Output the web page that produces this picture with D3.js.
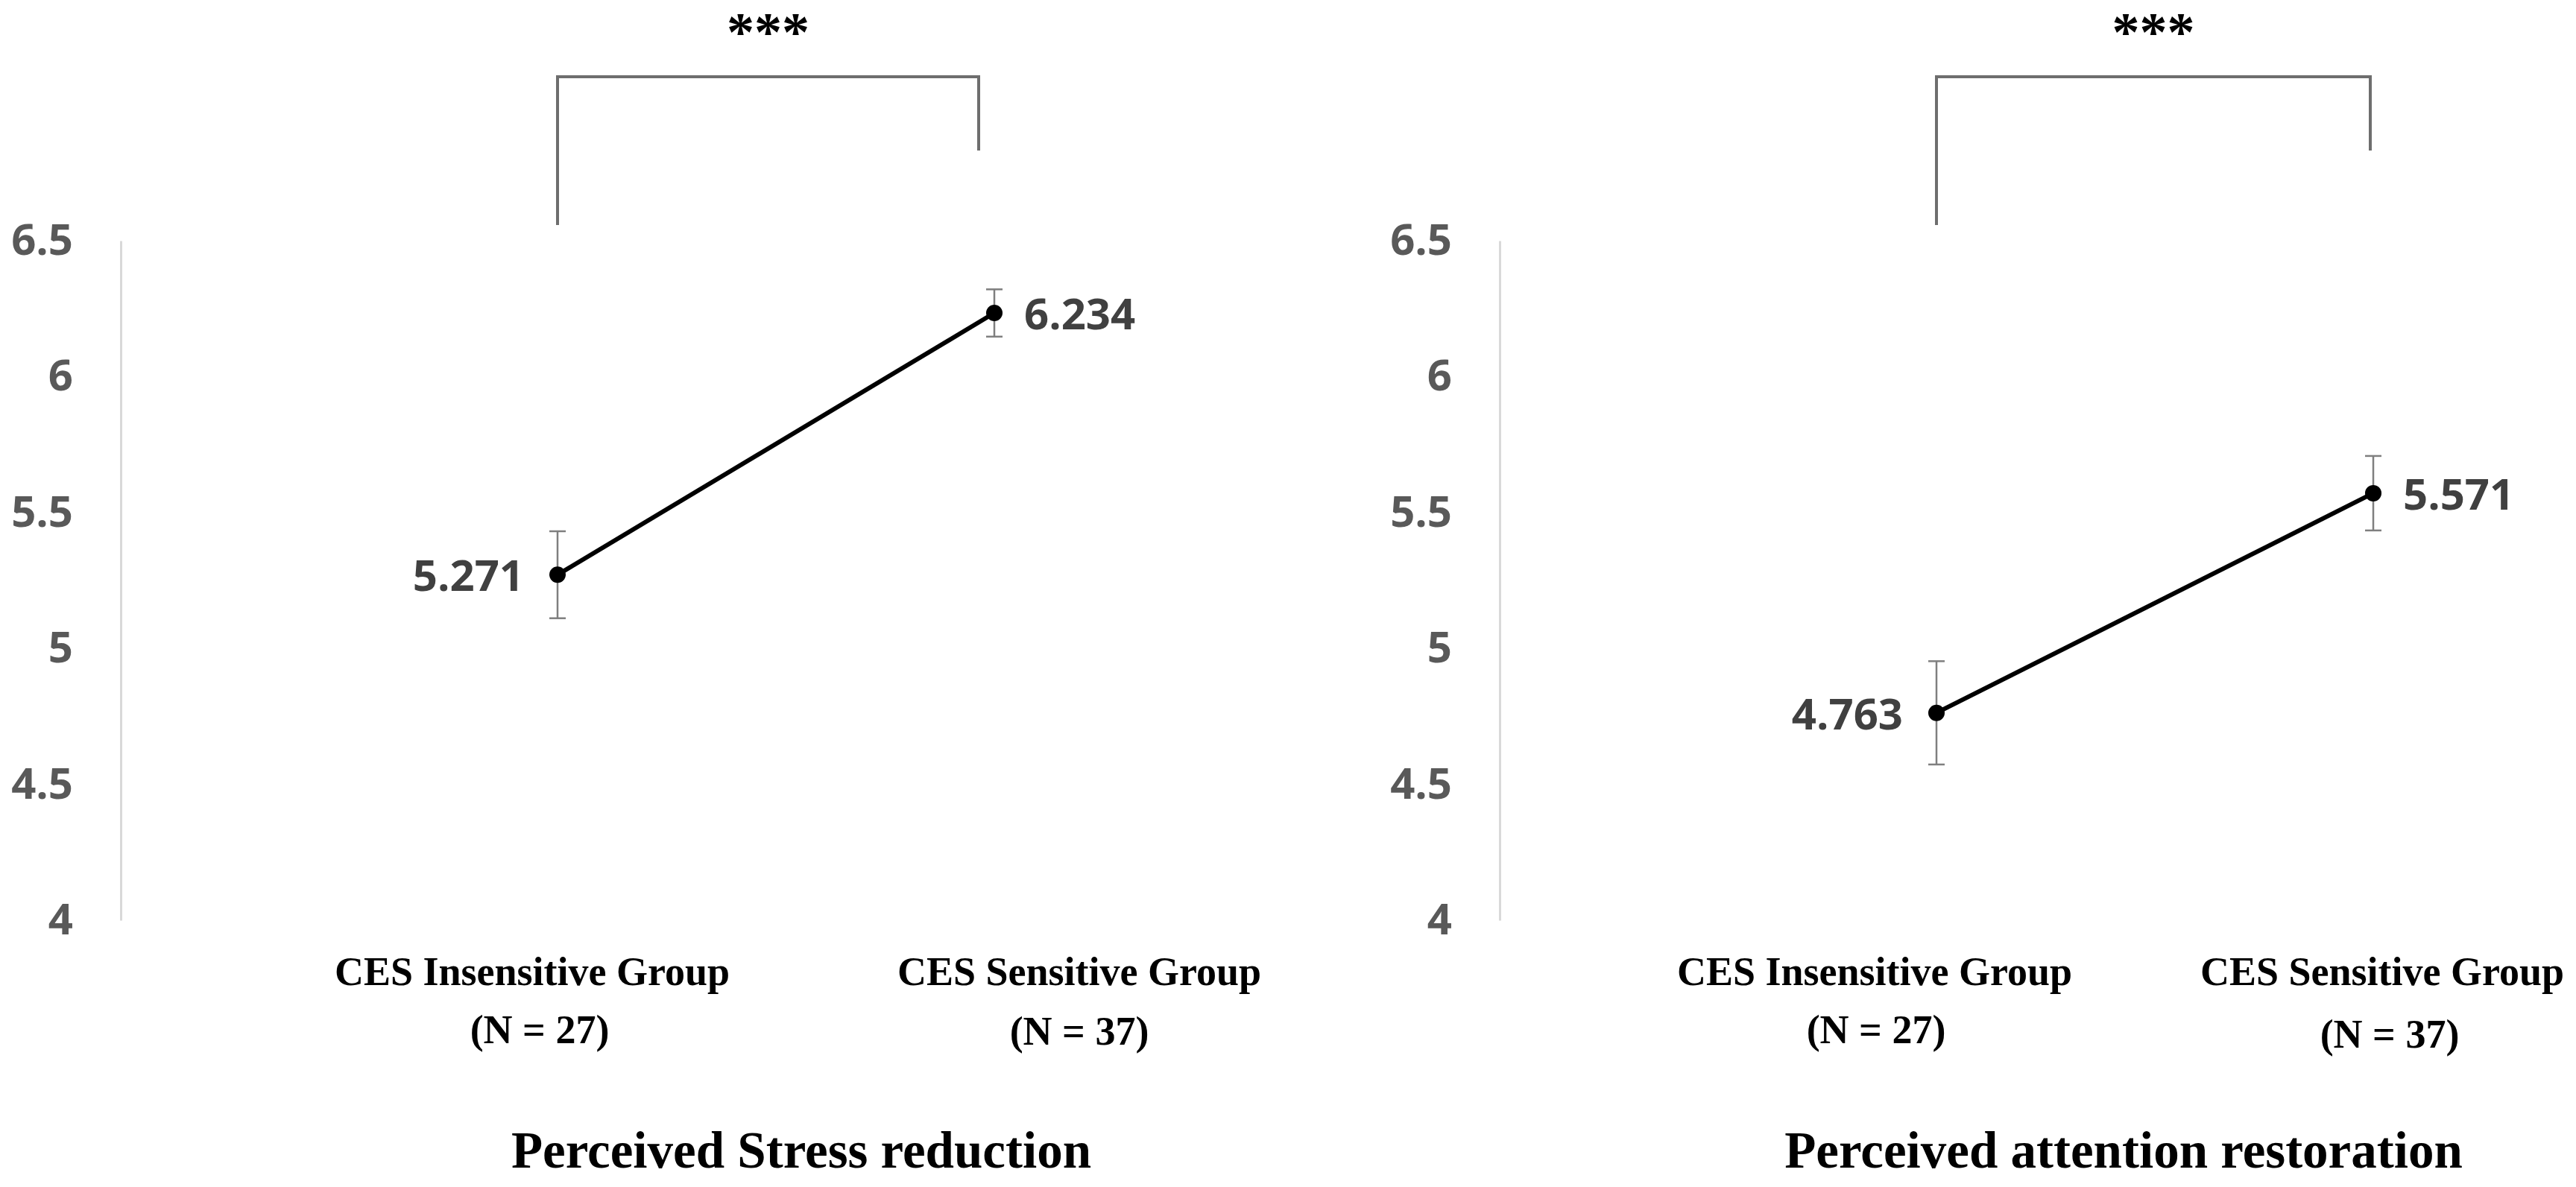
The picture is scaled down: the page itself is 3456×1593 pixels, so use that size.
<!DOCTYPE html>
<html>
<head>
<meta charset="utf-8">
<script src="https://cdn.jsdelivr.net/npm/d3@7"></script>
<style>
  html, body { margin: 0; padding: 0; background: #fff; }
  svg { display: block; }
</style>
</head>
<body>
<script>
// data
const categories = ["CES Insensitive Group", "CES Sensitive Group"];
const sampleSizes = ["(N = 27)", "(N = 37)"];
const panelTitles = ["Perceived Stress reduction", "Perceived attention restoration"];
const stressMeans = [5.271, 6.234];
const stressErrors = [0.16, 0.087];
const attentionMeans = [4.763, 5.571];
const attentionErrors = [0.19, 0.137];
const yTicks = [4, 4.5, 5, 5.5, 6, 6.5];
const significance = ["***", "***"];

const panels = [
  { title: panelTitles[0], means: stressMeans, errors: stressErrors, stars: significance[0] },
  { title: panelTitles[1], means: attentionMeans, errors: attentionErrors, stars: significance[1] }
];

// layout
const W = 3456, H = 1593;
const axisLeftX = [162, 2012];
const plotTop = 323, plotBottom = 1235;
const catDx = [[-34, 114], [-83, 12]];
const nDx = [[-24, 114], [-81, 22]];
const nY = [[1400, 1402], [1400, 1406]];
const titleX = [1075, 2849];
const bracketRightDx = [-21, -4];

const serif = "'Liberation Serif', 'Times New Roman', serif";
const sans = "'Open Sans', 'Noto Sans', sans-serif";

const svg = d3.select("body").append("svg")
  .attr("width", W)
  .attr("height", H);

const y = d3.scaleLinear()
  .domain([4, 6.5])
  .range([plotBottom, plotTop]);

panels.forEach((p, k) => {
  const x0 = axisLeftX[k];
  const x = d3.scalePoint()
    .domain(categories)
    .range([x0, x0 + 1758])
    .padding(1);

  const g = svg.append("g").attr("class", "panel panel-" + k);

  // y axis
  const axis = g.append("g")
    .attr("class", "y axis")
    .attr("transform", "translate(" + x0 + ",0)")
    .call(
      d3.axisLeft(y)
        .tickValues(yTicks)
        .tickSize(0)
        .tickPadding(64)
        .tickFormat(d => String(d))
    );
  axis.select(".domain")
    .attr("stroke", "#d9d9d9")
    .attr("stroke-width", 3);
  axis.selectAll("text")
    .attr("fill", "#595959")
    .style("font-family", sans)
    .style("font-weight", "bold")
    .style("font-size", "58px");

  const pts = p.means.map((m, i) => ({ cat: categories[i], mean: m, err: p.errors[i] }));

  // error bars
  const eb = g.selectAll(".err")
    .data(pts)
    .enter().append("g")
    .attr("class", "err")
    .attr("stroke", "#7f7f7f")
    .attr("stroke-width", 2.5);
  eb.append("line")
    .attr("x1", d => x(d.cat)).attr("x2", d => x(d.cat))
    .attr("y1", d => y(d.mean + d.err)).attr("y2", d => y(d.mean - d.err));
  eb.append("line")
    .attr("x1", d => x(d.cat) - 11).attr("x2", d => x(d.cat) + 11)
    .attr("y1", d => y(d.mean + d.err)).attr("y2", d => y(d.mean + d.err));
  eb.append("line")
    .attr("x1", d => x(d.cat) - 11).attr("x2", d => x(d.cat) + 11)
    .attr("y1", d => y(d.mean - d.err)).attr("y2", d => y(d.mean - d.err));

  // mean line
  const line = d3.line()
    .x(d => x(d.cat))
    .y(d => y(d.mean));
  g.append("path")
    .datum(pts)
    .attr("fill", "none")
    .attr("stroke", "#000")
    .attr("stroke-width", 6)
    .attr("d", line);

  g.selectAll(".dot")
    .data(pts)
    .enter().append("circle")
    .attr("class", "dot")
    .attr("cx", d => x(d.cat))
    .attr("cy", d => y(d.mean))
    .attr("r", 11)
    .attr("fill", "#000");

  // value labels
  g.selectAll(".val")
    .data(pts)
    .enter().append("text")
    .attr("class", "val")
    .attr("x", (d, i) => i === 0 ? x(d.cat) - 45 : x(d.cat) + 40)
    .attr("y", d => y(d.mean))
    .attr("dy", "0.38em")
    .attr("text-anchor", (d, i) => i === 0 ? "end" : "start")
    .attr("fill", "#404040")
    .style("font-family", sans)
    .style("font-weight", "bold")
    .style("font-size", "58px")
    .text(d => d.mean.toFixed(3));

  // category labels
  g.selectAll(".cat")
    .data(categories)
    .enter().append("text")
    .attr("class", "cat")
    .attr("x", (d, i) => x(d) + catDx[k][i])
    .attr("y", 1322)
    .attr("text-anchor", "middle")
    .style("font-family", serif)
    .style("font-weight", "bold")
    .style("font-size", "54px")
    .text(d => d);

  g.selectAll(".n")
    .data(sampleSizes)
    .enter().append("text")
    .attr("class", "n")
    .attr("x", (d, i) => x(categories[i]) + nDx[k][i])
    .attr("y", (d, i) => nY[k][i])
    .attr("text-anchor", "middle")
    .style("font-family", serif)
    .style("font-weight", "bold")
    .style("font-size", "54px")
    .text(d => d);

  // panel title
  g.append("text")
    .attr("x", titleX[k])
    .attr("y", 1567)
    .attr("text-anchor", "middle")
    .style("font-family", serif)
    .style("font-weight", "bold")
    .style("font-size", "69px")
    .text(p.title);

  // significance bracket
  const bl = x(categories[0]);
  const br = x(categories[1]) + bracketRightDx[k];
  g.append("path")
    .attr("fill", "none")
    .attr("stroke", "#6e6e6e")
    .attr("stroke-width", 4)
    .attr("d", "M" + bl + ",302V103H" + br + "V202");
  g.append("text")
    .attr("x", (bl + br) / 2)
    .attr("y", 68)
    .attr("text-anchor", "middle")
    .style("font-family", serif)
    .style("font-weight", "bold")
    .style("font-size", "74px")
    .text(p.stars);
});
</script>
</body>
</html>
